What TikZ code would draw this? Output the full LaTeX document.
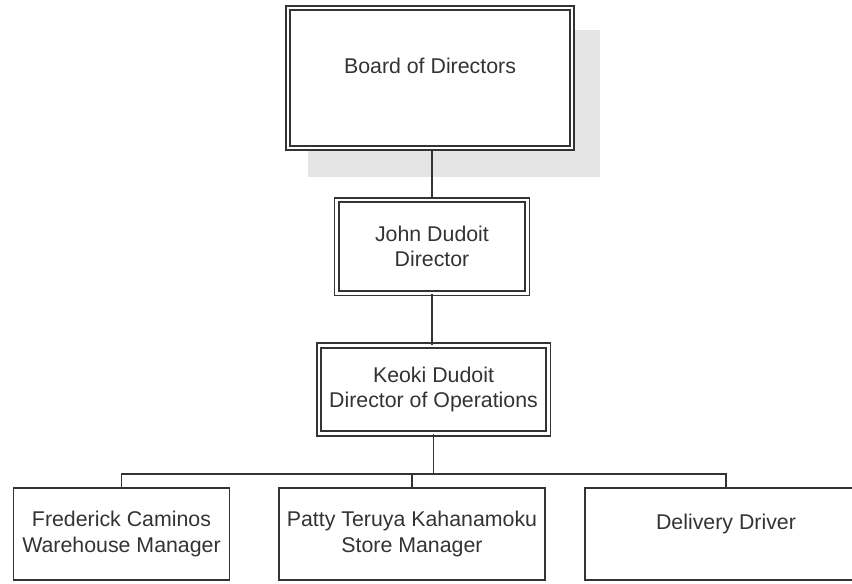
\documentclass[tikz,border=0pt]{standalone}
\usepackage{fontspec}
\setmainfont{Liberation Sans}
\usepackage{xcolor}
\usepackage{tikz}
\definecolor{inkgray}{gray}{0.2}

\begin{document}
\begin{tikzpicture}[x=0.75pt,y=-0.75pt,
  font=\fontsize{16}{19}\selectfont,
  every node/.style={text=inkgray, align=center, inner sep=2pt},
  dblbox/.style={draw=inkgray, double, double distance=2pt, line width=1.3pt, rectangle},
  plainbox/.style={draw=inkgray, line width=1.4pt, rectangle, minimum height=69pt},
  link/.style={draw=inkgray, line width=1.3pt}]
  \useasboundingbox (0,0) rectangle (852,583);
  \fill[gray!20] (308,30) rectangle (600,177);
  \node[dblbox, fill=white, minimum width=213pt, minimum height=105pt, text depth=19pt] (board) at (430,78) {Board of Directors};
  \node[dblbox, minimum width=143pt, minimum height=70pt] (john) at (432,246.5) {John Dudoit\\Director};
  \node[dblbox, minimum width=172pt, minimum height=66pt] (keoki) at (433.5,389.5) {Keoki Dudoit\\Director of Operations};
  \node[plainbox, minimum width=162pt] (fred) at (121.5,534) {Frederick Caminos\\Warehouse Manager};
  \node[plainbox, minimum width=200pt] (patty) at (412,534) {Patty Teruya Kahanamoku\\Store Manager};
  \node[plainbox, minimum width=211pt, text depth=19pt] (driver) at (726,534) {Delivery Driver};
  \coordinate (bus) at (433.5,474);
  \draw[link] (john.north |- board.south) -- (john.north);
  \draw[link] (john.south) -- (john.south |- keoki.north);
  \draw[link] (keoki.south) -- (bus);
  \draw[link] (fred.north) |- (bus) -| (driver.north);
  \draw[link] (patty.north) -- (patty.north |- bus);
\end{tikzpicture}
\end{document}
